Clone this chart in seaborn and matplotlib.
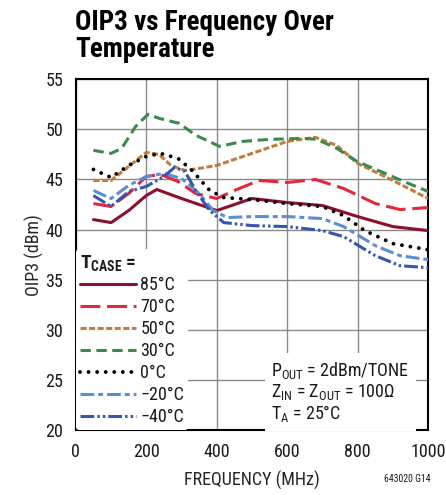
import seaborn as sns
import matplotlib.pyplot as plt
from matplotlib import font_manager
import pandas as pd

# -------------------
# Data
# -------------------
freq_85 = [50, 100, 150, 200, 230, 300, 400, 500, 600, 700, 800, 900, 1000]
oip3_85 = [41.0, 40.7, 41.9, 43.4, 44.0, 43.1, 41.9, 43.1, 42.7, 42.4, 41.3, 40.3, 39.9]

freq_70 = [50, 100, 150, 200, 240, 290, 340, 400, 450, 520, 600, 680, 760, 850, 920, 1000]
oip3_70 = [42.6, 42.3, 43.6, 45.3, 45.5, 44.8, 43.6, 43.1, 43.9, 44.9, 44.7, 45.0, 44.1, 42.6, 42.0, 42.2]

freq_50 = [50, 100, 150, 200, 236, 270, 310, 350, 400, 500, 600, 680, 740, 800, 900, 1000]
oip3_50 = [44.9, 44.9, 46.3, 47.7, 47.5, 46.4, 45.9, 46.1, 46.4, 47.6, 48.8, 49.2, 48.4, 46.6, 44.9, 43.1]

freq_30 = [50, 100, 130, 170, 205, 236, 293, 341, 408, 474, 550, 646, 684, 741, 798, 865, 931, 1000]
oip3_30 = [47.9, 47.6, 48.1, 50.3, 51.5, 51.1, 50.6, 49.4, 48.3, 48.8, 49.0, 49.1, 49.0, 48.1, 46.8, 45.8, 44.8, 43.8]

freq_0 = [50, 100, 150, 200, 240, 290, 330, 380, 420, 500, 600, 700, 760, 820, 900, 1000]
oip3_0 = [46.0, 45.2, 46.4, 47.3, 47.6, 47.1, 45.9, 43.9, 43.2, 43.0, 42.6, 42.3, 41.4, 39.9, 38.6, 38.0]

freq_m20 = [50, 100, 150, 200, 250, 300, 350, 390, 430, 500, 600, 700, 760, 850, 920, 1000]
oip3_m20 = [43.9, 43.1, 44.4, 45.3, 45.6, 45.1, 43.6, 41.9, 41.2, 41.3, 41.3, 41.1, 40.3, 38.4, 37.4, 37.0]

freq_m40 = [50, 100, 150, 200, 250, 280, 310, 340, 380, 420, 500, 600, 700, 760, 850, 920, 1000]
oip3_m40 = [43.4, 42.3, 43.8, 44.3, 45.3, 46.2, 45.8, 43.9, 41.9, 40.7, 40.4, 40.3, 39.9, 39.3, 37.4, 36.4, 36.2]

labels = ["85°C", "70°C", "50°C", "30°C", "0°C", "\u221220°C", "\u221240°C"]
freqs = [freq_85, freq_70, freq_50, freq_30, freq_0, freq_m20, freq_m40]
values = [oip3_85, oip3_70, oip3_50, oip3_30, oip3_0, oip3_m20, oip3_m40]

x_ticks = [0, 200, 400, 600, 800, 1000]
y_ticks = [20, 25, 30, 35, 40, 45, 50, 55]

rows = []
for lab, fr, vals in zip(labels, freqs, values):
    for f, v in zip(fr, vals):
        rows.append({"Freq": f, "OIP3": v, "Temp": lab})
df = pd.DataFrame(rows)

colors = ["#8c0f2e", "#e2283c", "#c47c3c", "#3b8a4b", "#000000", "#5b8fd4", "#3556b0"]
# dash patterns in units of linewidth
dash_styles = [None, (6.5, 2.2), (2.0, 0.8), (3.4, 1.8), (0.001, 2.2),
               (4.5, 1.3, 1.6, 1.3), (4.5, 1.0, 0.8, 1.0, 0.8, 1.0)]

# -------------------
# Styling
# -------------------
sns.set_style("white")
names = {f.name for f in font_manager.fontManager.ttflist}
narrow = "Roboto Condensed" if "Roboto Condensed" in names else "Liberation Sans"
plt.rcParams["font.family"] = [narrow, "DejaVu Sans"]
plt.rcParams["mathtext.fontset"] = "custom"
plt.rcParams["mathtext.rm"] = narrow
plt.rcParams["mathtext.bf"] = narrow + ":bold"
plt.rcParams["text.color"] = "#1a1a1a"

fig = plt.figure(figsize=(4.46, 4.95), dpi=100)
ax = fig.add_axes([0.170, 0.131, 0.790, 0.709])

for lab, col, ds in zip(labels, colors, dash_styles):
    sub = df[df["Temp"] == lab]
    sns.lineplot(data=sub, x="Freq", y="OIP3", color=col, lw=2.2, ax=ax,
                 label=lab, zorder=3)
    line = ax.lines[-1]
    if ds is not None:
        line.set_dashes(ds)
    if lab == "0°C":
        line.set_linewidth(2.8)
        line.set_dash_capstyle("round")

ax.set_xlim(0, 1000)
ax.set_ylim(20, 55)
ax.set_xticks(x_ticks)
ax.set_yticks(y_ticks)
ax.grid(True, color="#8a8a8a", lw=1.0)
ax.set_axisbelow(True)
for sp in ax.spines.values():
    sp.set_color("black")
    sp.set_linewidth(1.5)
ax.tick_params(length=0, labelsize=13, pad=9, colors="#1a1a1a")
ax.set_xlabel("FREQUENCY (MHz)", fontsize=13, labelpad=7)
ax.set_ylabel("OIP3 (dBm)", fontsize=13, labelpad=1)

leg = ax.legend(loc="lower left", bbox_to_anchor=(0, 0), borderaxespad=0,
                frameon=True, facecolor="white", edgecolor="none", framealpha=1,
                fontsize=13, handlelength=3.1, handletextpad=0.25,
                labelspacing=0.22, borderpad=0.22,
                title="T$_{\\mathbf{CASE}}$ =", alignment="left")
leg.get_title().set_fontsize(14)
leg.get_title().set_fontweight("bold")
leg.get_frame().set_linewidth(0)
leg.set_zorder(4)
leg._legend_box.sep = 2
for h in leg.get_lines():
    h.set_linewidth(2.2)
leg.get_lines()[4].set_linewidth(2.8)
leg.get_lines()[4].set_dash_capstyle("round")

ax.text(0.555, 0.018,
        "P$_{\\mathrm{OUT}}$ = 2dBm/TONE\nZ$_{\\mathrm{IN}}$ = Z$_{\\mathrm{OUT}}$ = 100\u03a9\nT$_{\\mathrm{A}}$ = 25°C",
        transform=ax.transAxes, fontsize=13, ha="left", va="bottom",
        linespacing=1.05, zorder=4,
        bbox=dict(facecolor="white", edgecolor="none", pad=5))

fig.text(0.168, 0.982, "OIP3 vs Frequency Over\nTemperature", fontsize=19.5,
         fontweight="bold", ha="left", va="top", linespacing=1.0, color="black")
fig.text(0.965, 0.022, "643020 G14", fontsize=7, ha="right", va="bottom")

plt.savefig("out.png", dpi=100)
plt.close()
